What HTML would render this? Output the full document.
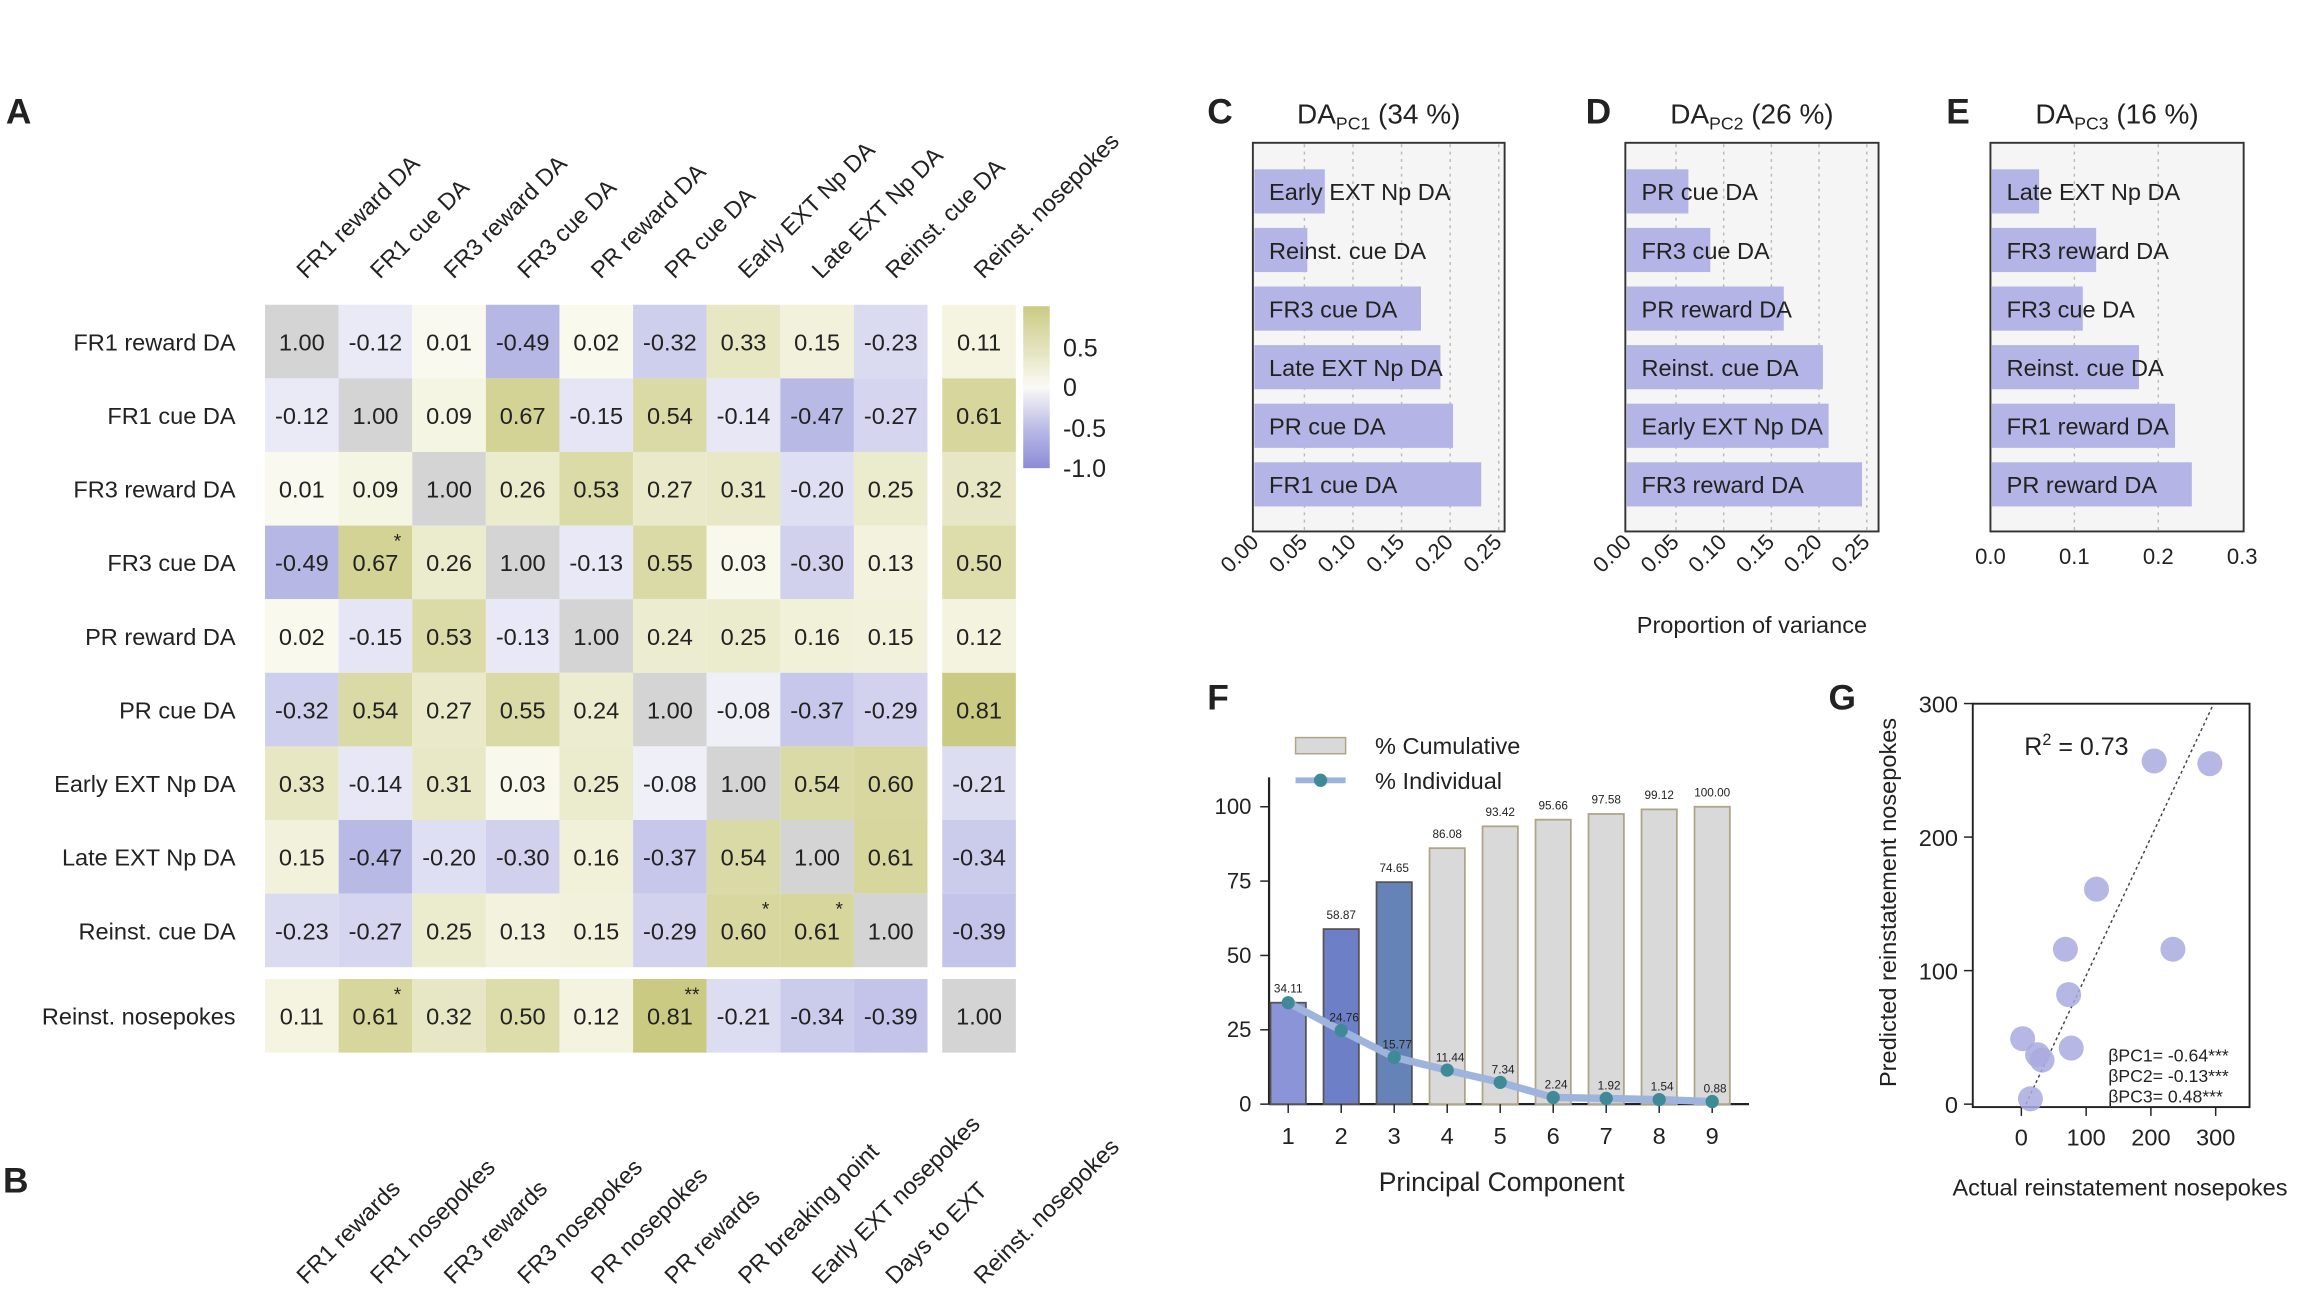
<!DOCTYPE html>
<html><head><meta charset="utf-8">
<style>
html,body{margin:0;padding:0;background:#fff;}
svg{display:block;font-family:"Liberation Sans",Arial,sans-serif;}
</style></head>
<body>
<svg id="fig" width="2307" height="1297" viewBox="0 0 1567 881" xmlns="http://www.w3.org/2000/svg">
<g id="gA"></g>
<g id="gB"></g>
<g id="gC"></g>
<g id="gF"></g>
<g id="gG"></g>
</svg>
<script>
const NS="http://www.w3.org/2000/svg";
const daLabels=["FR1 reward DA","FR1 cue DA","FR3 reward DA","FR3 cue DA","PR reward DA","PR cue DA","Early EXT Np DA","Late EXT Np DA","Reinst. cue DA","Reinst. nosepokes"];
const bLabels=["FR1 rewards","FR1 nosepokes","FR3 rewards","FR3 nosepokes","PR nosepokes","PR rewards","PR breaking point","Early EXT nosepokes","Days to EXT","Reinst. nosepokes"];
const corr=[
[1.00,-0.12,0.01,-0.49,0.02,-0.32,0.33,0.15,-0.23,0.11],
[-0.12,1.00,0.09,0.67,-0.15,0.54,-0.14,-0.47,-0.27,0.61],
[0.01,0.09,1.00,0.26,0.53,0.27,0.31,-0.20,0.25,0.32],
[-0.49,0.67,0.26,1.00,-0.13,0.55,0.03,-0.30,0.13,0.50],
[0.02,-0.15,0.53,-0.13,1.00,0.24,0.25,0.16,0.15,0.12],
[-0.32,0.54,0.27,0.55,0.24,1.00,-0.08,-0.37,-0.29,0.81],
[0.33,-0.14,0.31,0.03,0.25,-0.08,1.00,0.54,0.60,-0.21],
[0.15,-0.47,-0.20,-0.30,0.16,-0.37,0.54,1.00,0.61,-0.34],
[-0.23,-0.27,0.25,0.13,0.15,-0.29,0.60,0.61,1.00,-0.39],
[0.11,0.61,0.32,0.50,0.12,0.81,-0.21,-0.34,-0.39,1.00]];
const stars=[[3,1,"*"],[8,6,"*"],[8,7,"*"],[9,1,"*"],[9,5,"**"]];
const cCats=["Early EXT Np DA","Reinst. cue DA","FR3 cue DA","Late EXT Np DA","PR cue DA","FR1 cue DA"];
const cVals=[0.071,0.053,0.17,0.19,0.203,0.232];
const dCats=["PR cue DA","FR3 cue DA","PR reward DA","Reinst. cue DA","Early EXT Np DA","FR3 reward DA"];
const dVals=[0.063,0.086,0.163,0.204,0.21,0.245];
const eCats=["Late EXT Np DA","FR3 reward DA","FR3 cue DA","Reinst. cue DA","FR1 reward DA","PR reward DA"];
const eVals=[0.058,0.126,0.11,0.177,0.22,0.24];
const pcCats=[1,2,3,4,5,6,7,8,9];
const cumVals=[34.11,58.87,74.65,86.08,93.42,95.66,97.58,99.12,100.00];
const indVals=[34.11,24.76,15.77,11.44,7.34,2.24,1.92,1.54,0.88];
const gActual=[205,291,116,68,234,73,2,25,32,77,14];
const gPred=[257,255,161,116,116,82,49,37,33,42,4];

function el(p,tag,attrs,txt){const e=document.createElementNS(NS,tag);for(const k in attrs)e.setAttribute(k,attrs[k]);if(txt!==undefined)e.textContent=txt;p.appendChild(e);return e;}
function t(p,x,y,s,size,anchor,name,extra){const e=el(p,"text",Object.assign({x:x,y:y,"font-size":size,"text-anchor":anchor||"start",fill:"#222"},extra||{}),s);return e;}
function mix(a,b,f){return "rgb("+a.map((v,i)=>Math.round(v+(b[i]-v)*f)).join(",")+")";}
function hcol(v){if(v>=0.999)return "#d4d4d4";if(v>=0)return mix([250,250,240],[200,200,125],Math.min(v/0.85,1));return mix([250,250,252],[140,140,215],Math.min(-v/0.8,1));}

// Panel A
const A=document.getElementById("gA");
t(A,4,84,"A",24,"start","panel-label-a",{"font-weight":"bold"});
const cx=i=>i<9?180+50*i:640, cy=j=>j<9?207+50*j:665;
for(let j=0;j<10;j++){
  t(A,160,cy(j)+31,daLabels[j],16,"end","row-label");
  for(let i=0;i<10;i++){
    const v=corr[j][i];
    const r=el(A,"rect",{x:cx(i),y:cy(j),width:50,height:50,fill:hcol(v)});
    
    
    t(A,cx(i)+25,cy(j)+31,v.toFixed(2),16,"middle","cell-value");
  }
}
stars.forEach(s=>{t(A,cx(s[1])+40,cy(s[0])+15,s[2],13,"middle","significance-star");});
for(let i=0;i<10;i++){
  const x=cx(i)+28,y=190;
  t(A,x,y,daLabels[i],16,"start","column-label",{transform:"rotate(-45 "+x+" "+y+")"});
}
const defs=el(A,"defs",{});const lg=el(defs,"linearGradient",{id:"cb",x1:0,y1:0,x2:0,y2:1});
[[0,hcol(0.8)],[0.25,hcol(0.4)],[0.5,"#fafaf6"],[0.75,hcol(-0.45)],[1,hcol(-0.9)]].forEach(s=>el(lg,"stop",{offset:s[0],"stop-color":s[1]}));
const cb=el(A,"rect",{x:695,y:208,width:18,height:110,fill:"url(#cb)"});

[["0.5",242],["0",269],["-0.5",297],["-1.0",324]].forEach(l=>t(A,722,l[1],l[0],17,"start","colorbar-tick"));

// Panel B
const B=document.getElementById("gB");
t(B,2,810,"B",24,"start","panel-label-b",{"font-weight":"bold"});
for(let i=0;i<10;i++){
  const x=cx(i)+28,y=873;
  t(B,x,y,bLabels[i],16,"start","behavior-label",{transform:"rotate(-45 "+x+" "+y+")"});
}

// Panels C D E
const C=document.getElementById("gC");
function barPanel(letter,lx,title,pct,box,x0,scale,ticks,cats,vals,rot){
  t(C,lx,84,letter,24,"start","panel-label-"+letter.toLowerCase(),{"font-weight":"bold"});
  const tt=t(C,(box[0]+box[1])/2,84,"",19,"middle","panel-title-"+letter.toLowerCase());
  tt.innerHTML='DA<tspan font-size="12" dy="4">'+title+'</tspan><tspan dy="-4"> ('+pct+' %)</tspan>';
  const r=el(C,"rect",{x:box[0],y:97,width:box[1]-box[0],height:264,fill:"#f5f5f5",stroke:"#333","stroke-width":1.3});
  
  ticks.forEach(tk=>{const x=x0+tk*scale;
    if(tk>0&&x<box[1]-2){const g=el(C,"line",{x1:x,x2:x,y1:98,y2:360,stroke:"#bbb","stroke-dasharray":"2,3"});}
    const s=rot?tk.toFixed(2):tk.toFixed(1);
    if(rot) t(C,x+4,372,s,15,"end","x-tick",{transform:"rotate(-45 "+x+" 372)"});
    else t(C,x,383,s,15,"middle","x-tick");
  });
  cats.forEach((c,i)=>{const yc=130+39.8*i;
    const b=el(C,"rect",{x:box[0]+1,y:yc-15,width:x0+vals[i]*scale-box[0]-1,height:30,fill:"#b4b4e6"});
    
    t(C,box[0]+11,yc+6,c,16,"start","bar-label");
  });
}
barPanel("C",820,"PC1",34,[851,1022],853,660,[0,0.05,0.1,0.15,0.2,0.25],cCats,cVals,true);
barPanel("D",1077,"PC2",26,[1104,1276],1106,648,[0,0.05,0.1,0.15,0.2,0.25],dCats,dVals,true);
barPanel("E",1322,"PC3",16,[1352,1524],1352,570,[0,0.1,0.2,0.3],eCats,eVals,false);
t(C,1190,430,"Proportion of variance",16,"middle","x-axis-title-cde");

// Panel F
const F=document.getElementById("gF");
t(F,820,482,"F",24,"start","panel-label-f",{"font-weight":"bold"});
const fx=i=>875+36*(i-1), fy=v=>750-v*2.02;
el(F,"line",{x1:862,x2:1188,y1:750,y2:750,stroke:"#222","stroke-width":1.5});
el(F,"line",{x1:862,x2:862,y1:528,y2:750,stroke:"#222","stroke-width":1.5});
[0,25,50,75,100].forEach(v=>{el(F,"line",{x1:856,x2:862,y1:fy(v),y2:fy(v),stroke:"#222"});t(F,850,fy(v)+5,String(v),15,"end","y-tick");});
const fcol=["#8b94d6","#6d7fc6","#6683b8"];
pcCats.forEach((c,i)=>{
  const b=el(F,"rect",{x:fx(c)-12,y:fy(cumVals[i]),width:24,height:fy(0)-fy(cumVals[i]),fill:i<3?fcol[i]:"#d9d9d9",stroke:i<3?"#555":"#b0a488","stroke-width":1.2});
  
  t(F,fx(c),fy(cumVals[i])-7,cumVals[i].toFixed(2),8,"middle","cumulative-value");
  el(F,"line",{x1:fx(c),x2:fx(c),y1:750,y2:756,stroke:"#222"});
  t(F,fx(c),777,String(c),16,"middle","x-tick");
});
const pl=el(F,"polyline",{points:pcCats.map((c,i)=>fx(c)+","+fy(indVals[i])).join(" "),fill:"none",stroke:"#9fb4dc","stroke-width":5,"stroke-linejoin":"round"});

pcCats.forEach((c,i)=>{
  const p=el(F,"circle",{cx:fx(c),cy:fy(indVals[i]),r:4.5,fill:"#3f8a98"});
  
  if(i>0)t(F,fx(c)+2,fy(indVals[i])-6,indVals[i].toFixed(2),8,"middle","individual-value");
});
const l1=el(F,"rect",{x:880,y:501,width:34,height:11,fill:"#d9d9d9",stroke:"#b0a488"});

t(F,934,512,"% Cumulative",16,"start","legend-label-cumulative");
el(F,"line",{x1:880,x2:914,y1:530,y2:530,stroke:"#9fb4dc","stroke-width":4});
el(F,"circle",{cx:897,cy:530,r:4.5,fill:"#3f8a98"});
t(F,934,536,"% Individual",16,"start","legend-label-individual");
t(F,1020,809,"Principal Component",18,"middle","x-axis-title-f");

// Panel G
const G=document.getElementById("gG");
t(G,1242,482,"G",24,"start","panel-label-g",{"font-weight":"bold"});
const gx=v=>1373+v*0.44, gy=v=>750-v*0.907;
const fr=el(G,"rect",{x:1340,y:478,width:188,height:274,fill:"none",stroke:"#222","stroke-width":1.3});

[0,100,200,300].forEach(v=>{t(G,1330,gy(v)+6,String(v),16,"end","y-tick");t(G,gx(v),778,String(v),16,"middle","x-tick");
  el(G,"line",{x1:1334,x2:1340,y1:gy(v),y2:gy(v),stroke:"#222"});el(G,"line",{x1:gx(v),x2:gx(v),y1:752,y2:758,stroke:"#222"});});
el(G,"line",{x1:gx(7),y1:gy(0),x2:gx(295),y2:gy(298),stroke:"#444","stroke-dasharray":"2,2","stroke-width":1});
gActual.forEach((a,i)=>{const c=el(G,"circle",{cx:gx(a),cy:gy(gPred[i]),r:8.5,fill:"#aaaae0","fill-opacity":0.85});
  });
const r2=t(G,1375,513,"",17,"start","r-squared");r2.innerHTML='R<tspan font-size="11" dy="-7">2</tspan><tspan dy="7"> = 0.73</tspan>';
t(G,1432,721,"βPC1= -0.64***",12,"start","beta-pc1");
t(G,1432,735,"βPC2= -0.13***",12,"start","beta-pc2");
t(G,1432,749,"βPC3= 0.48***",12,"start","beta-pc3");
t(G,1440,812,"Actual reinstatement nosepokes",16,"middle","x-axis-title-g");
t(G,1288,613,"Predicted reinstatement nosepokes",16,"middle","y-axis-title-g",{transform:"rotate(-90 1288 613)"});
</script>
</body></html>
